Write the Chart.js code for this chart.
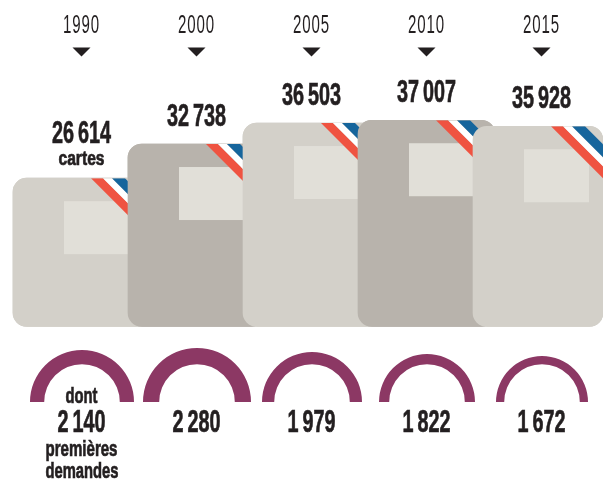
<!DOCTYPE html>
<html>
<head>
<meta charset="utf-8">
<script src="https://cdn.jsdelivr.net/npm/chart.js@4"></script>
<style>
  html, body { margin: 0; padding: 0; background: #fff; }
  #page { position: relative; width: 603px; height: 481px; overflow: hidden; }
  #page canvas { position: absolute; }
</style>
</head>
<body>
<div id="page">
  <canvas id="cards" width="603" height="481" style="left:0;top:0"></canvas>
</div>
<script>
const years = ["1990", "2000", "2005", "2010", "2015"]
const cartes = [26614, 32738, 36503, 37007, 35928]
const premieres = [2140, 2280, 1979, 1822, 1672]
const cardColors = ["#d3d0c9", "#b8b3ac", "#d3d0c9", "#b8b3ac", "#d3d0c9"]

const narrow = '"Liberation Sans Narrow", "Liberation Sans", sans-serif'
const ink = "#231f20"

function fmt(n) {
    const s = String(n)
    return s.slice(0, -3) + "\u2009" + s.slice(-3)
}

function text(ctx, str, x, y, font, maxW, heavy) {
    ctx.font = font
    ctx.fillStyle = ink
    ctx.strokeStyle = ink
    ctx.lineWidth = 0.7
    ctx.textAlign = "center"
    ctx.textBaseline = "alphabetic"
    ctx.fillText(str, x, y, maxW)
    if (heavy) ctx.strokeText(str, x, y, maxW)
}

function decorate(ctx, bar) {
    const left = bar.x - bar.width / 2
    const top = bar.y
    ctx.save()
    ctx.beginPath()
    ctx.rect(left, top, bar.width, 90)
    ctx.clip()
    ctx.fillStyle = "#e1dfd8"
    ctx.fillRect(left + 51, top + 23, 65, 53)
    const bands = [[78, 90, "#ef5341"], [90, 99, "#ffffff"], [99, 112, "#16659c"]]
    bands.forEach(([a, b, c]) => {
        ctx.fillStyle = c
        ctx.beginPath()
        ctx.moveTo(left + a, top)
        ctx.lineTo(left + b, top)
        ctx.lineTo(left + b + 70, top + 70)
        ctx.lineTo(left + a + 70, top + 70)
        ctx.closePath()
        ctx.fill()
    })
    ctx.restore()
}

// chip, tricolour stripe, years, arrows and value labels sit on the bars
const cardDecor = {
    id: "cardDecor",
    afterDatasetsUpdate(chart) {
        // the last card stops at the right edge of the page
        const last = chart.getDatasetMeta(0).data[4]
        last.x -= 3.5
        last.width = 130
    },
    afterDatasetsDraw(chart) {
        const ctx = chart.ctx
        const bars = chart.getDatasetMeta(0).data
        const x = chart.scales.x
        // each card overlaps the one before it, details included
        bars.forEach((bar, i) => {
            bar.draw(ctx)
            decorate(ctx, bar)
        })
        years.forEach((y, i) => {
            const cx = x.getPixelForValue(i)
            ctx.letterSpacing = "1.5px"
            text(ctx, y, cx, 33, "26px " + narrow, 37, false)
            ctx.letterSpacing = "0px"
            ctx.fillStyle = ink
            ctx.beginPath()
            ctx.moveTo(cx - 9, 47.5)
            ctx.lineTo(cx + 9, 47.5)
            ctx.lineTo(cx, 56.5)
            ctx.closePath()
            ctx.fill()
            const gap = i === 0 ? 35 : 18
            text(ctx, fmt(cartes[i]), cx, bars[i].y - gap, "bold 31px " + narrow, 59, true)
            text(ctx, fmt(premieres[i]), cx, 431.5, "bold 31px " + narrow, 48, true)
        })
        const c0 = x.getPixelForValue(0)
        text(ctx, "cartes", c0, 165, "bold 20px " + narrow, 46, true)
        text(ctx, "dont", c0, 402.5, "bold 22px " + narrow, 32, true)
        text(ctx, "premières", c0, 455.5, "bold 22px " + narrow, 72, true)
        text(ctx, "demandes", c0 + 0.5, 478, "bold 22px " + narrow, 73, true)
    }
}

new Chart(document.getElementById("cards"), {
    type: "bar",
    plugins: [cardDecor],
    data: {
        labels: years,
        datasets: [{
            data: cartes,
            backgroundColor: cardColors,
            borderRadius: 14,
            borderSkipped: false,
            barThickness: 137,
            clip: false
        }]
    },
    options: {
        responsive: false,
        animation: false,
        layout: { padding: { left: 24, right: 4, top: 47.8, bottom: 154.5 } },
        plugins: { legend: { display: false }, tooltip: { enabled: false } },
        scales: {
            x: { display: false },
            y: { display: false, min: 0, max: 50000 }
        }
    }
})

// half rings: inner radius is fixed, the ring gets thicker with the value
const ringInner = 37.8
const ringCentres = [81.5, 196.5, 312, 427, 542]
premieres.forEach((v, i) => {
    const outer = Math.round(ringInner + (v - 1050) / 76)
    const cv = document.createElement("canvas")
    cv.width = outer * 2
    cv.height = outer
    cv.style.left = (ringCentres[i] - outer) + "px"
    cv.style.top = (401.5 - outer) + "px"
    document.getElementById("page").appendChild(cv)
    new Chart(cv, {
        type: "doughnut",
        data: {
            labels: [years[i]],
            datasets: [{ data: [v], backgroundColor: "#8c3864", borderWidth: 0 }]
        },
        options: {
            responsive: false,
            animation: false,
            rotation: -90,
            circumference: 180,
            cutout: (ringInner / outer * 100) + "%",
            plugins: { legend: { display: false }, tooltip: { enabled: false } }
        }
    })
})
</script>
</body>
</html>
